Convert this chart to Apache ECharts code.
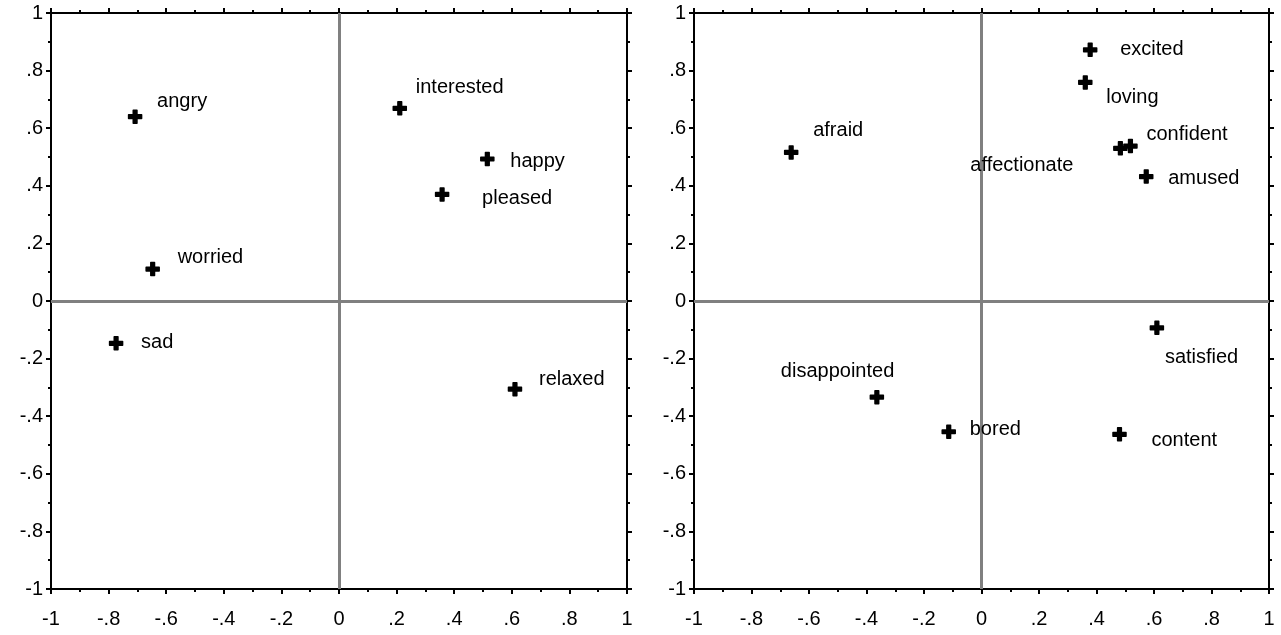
<!DOCTYPE html>
<html>
<head>
<meta charset="utf-8">
<script src="https://cdn.jsdelivr.net/npm/echarts@6/dist/echarts.min.js"></script>
<style>
html,body{margin:0;padding:0;background:#fff;}
#chart{width:1281px;height:635px;}
</style>
</head>
<body>
<div id="chart"></div>
<script>
// ---- data ----
const leftWords = ['angry', 'interested', 'happy', 'pleased', 'worried', 'sad', 'relaxed'];
const leftX = [-0.708, 0.211, 0.515, 0.358, -0.647, -0.774, 0.611];
const leftY = [0.640, 0.669, 0.493, 0.370, 0.111, -0.147, -0.306];

const rightWords = ['excited', 'loving', 'afraid', 'affectionate', 'confident', 'amused', 'satisfied', 'disappointed', 'bored', 'content'];
const rightX = [0.378, 0.361, -0.662, 0.483, 0.518, 0.573, 0.610, -0.364, -0.114, 0.480];
const rightY = [0.872, 0.759, 0.516, 0.530, 0.538, 0.432, -0.093, -0.334, -0.454, -0.463];

const tickValues = [-1, -0.8, -0.6, -0.4, -0.2, 0, 0.2, 0.4, 0.6, 0.8, 1];
const tickLabels = ['-1', '-.8', '-.6', '-.4', '-.2', '0', '.2', '.4', '.6', '.8', '1'];

// ---- label placement (layout only) ----
const leftLabelOffsets = [[22, -15], [16, -21], [23, 2], [40, 4], [25, -12], [25, -1], [24, -10]];
const rightLabelOffsets = [[30, 0], [21, 15], [22, -22], [-150, 17], [16, -12], [22, 2], [8, 30], [-96, -26], [21, -2], [32, 6]];

const FONT = 'Arial, "Liberation Sans", sans-serif';

function fmt(v) {
  const i = tickValues.findIndex(t => Math.abs(t - v) < 1e-6);
  return i >= 0 ? tickLabels[i] : '';
}

function makeAxis(kind, gridIndex, position, showLabels) {
  return {
    type: 'value',
    gridIndex: gridIndex,
    position: position,
    min: -1, max: 1, interval: 0.2,
    axisLine: { show: true, onZero: false, lineStyle: { color: '#000', width: 2 } },
    axisTick: { show: true, inside: false, length: 5, lineStyle: { color: '#000', width: 2 } },
    minorTick: { show: true, splitNumber: 2, length: 3, lineStyle: { color: '#000', width: 2 } },
    splitLine: { show: false },
    axisLabel: {
      show: showLabels,
      formatter: fmt,
      color: '#000',
      opacity: 1,
      fontFamily: FONT,
      fontSize: 20,
      margin: kind === 'x' ? 20 : 8,
      showMinLabel: true, showMaxLabel: true
    }
  };
}

const plusPath = 'path://M5,0 H9 V5 H14 V9 H9 V14 H5 V9 H0 V5 H5 Z';

function makeSeries(gridIdx, words, xs, ys, offsets) {
  const data = words.map((w, i) => ({
    value: [xs[i], ys[i]],
    name: w,
    label: { offset: offsets[i] }
  }));
  return {
    type: 'scatter',
    xAxisIndex: gridIdx * 2,
    yAxisIndex: gridIdx * 2,
    symbol: plusPath,
    symbolSize: 13,
    itemStyle: { color: '#000', opacity: 1, borderColor: '#000', borderWidth: 1.5, borderJoin: 'round' },
    label: {
      show: true,
      position: 'inside',
      align: 'left',
      verticalAlign: 'middle',
      formatter: p => p.name,
      color: '#000',
      opacity: 1,
      fontFamily: FONT,
      fontSize: 20
    },
    emphasis: { disabled: true },
    silent: true,
    z: 5,
    data: data,
    markLine: {
      silent: true,
      symbol: ['none', 'none'],
      label: { show: false },
      lineStyle: { color: '#808080', width: 3, type: 'solid', opacity: 1 },
      z: 1,
      data: [{ xAxis: 0 }, { yAxis: 0 }]
    }
  };
}

const chart = echarts.init(document.getElementById('chart'), null, { renderer: 'canvas' });
chart.setOption({
  animation: false,
  backgroundColor: '#fff',
  grid: [
    { left: 51, top: 13, width: 576, height: 576 },
    { left: 694, top: 13, width: 575, height: 576 }
  ],
  xAxis: [
    makeAxis('x', 0, 'bottom', true),
    makeAxis('x', 0, 'top', false),
    makeAxis('x', 1, 'bottom', true),
    makeAxis('x', 1, 'top', false)
  ],
  yAxis: [
    makeAxis('y', 0, 'left', true),
    makeAxis('y', 0, 'right', false),
    makeAxis('y', 1, 'left', true),
    makeAxis('y', 1, 'right', false)
  ],
  series: [
    makeSeries(0, leftWords, leftX, leftY, leftLabelOffsets),
    makeSeries(1, rightWords, rightX, rightY, rightLabelOffsets)
  ]
});
</script>
</body>
</html>
